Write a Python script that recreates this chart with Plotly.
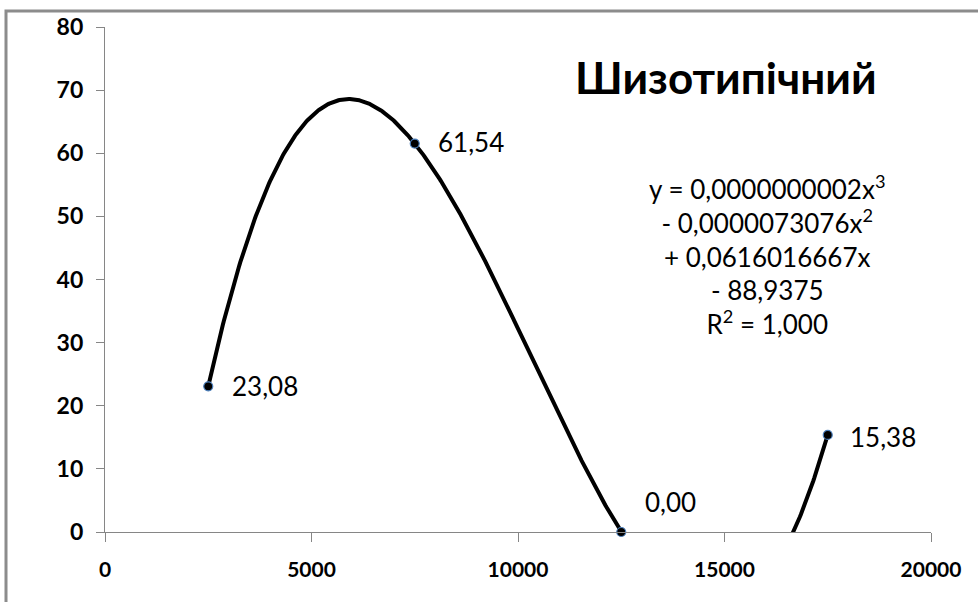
import numpy as np
import plotly.graph_objects as go

# Data
x_vals = [2500, 7500, 12500, 17500]
y_vals = [23.08, 61.54, 0.00, 15.38]
point_labels = ["23,08", "61,54", "0,00", "15,38"]
title_text = "Шизотипічний"
equation_lines = ["y = 0,0000000002x<sup>3</sup>", "- 0,0000073076x<sup>2</sup>",
                  "+ 0,0616016667x", "- 88,9375", "R<sup>2</sup> = 1,000"]
x_ticks = [0, 5000, 10000, 15000, 20000]
y_ticks = [0, 10, 20, 30, 40, 50, 60, 70, 80]

# Cubic trendline fitted to the data (as Excel's polynomial trendline)
coef = np.polyfit(x_vals, y_vals, 3)
xt = np.linspace(min(x_vals), max(x_vals), 600)
yt = np.polyval(coef, xt)

FONT = "Lato"
fig = go.Figure()
fig.add_trace(go.Scatter(x=xt, y=yt, mode="lines",
                         line=dict(color="black", width=4), hoverinfo="skip"))
fig.add_trace(go.Scatter(x=x_vals, y=y_vals, mode="markers",
                         marker=dict(color="black", size=9, line=dict(color="#4a7ebb", width=1.2)),
                         cliponaxis=False))

offsets = [(22, 0), (21, 2), (22, 30), (20, -2)]
for xv, yv, lab, (dx, dy) in zip(x_vals, y_vals, point_labels, offsets):
    fig.add_annotation(x=xv, y=yv, text=lab, showarrow=False, xanchor="left", yanchor="middle",
                       xshift=dx, yshift=dy, font=dict(family=FONT, size=26, color="black"))

fig.add_annotation(xref="paper", yref="paper", x=(726 - 105) / 826, y=(532 - 74) / 508,
                   text="<b>" + title_text + "</b>", showarrow=False, xanchor="center", yanchor="middle",
                   font=dict(family=FONT, size=44, color="black"))
fig.add_annotation(xref="paper", yref="paper", x=(767 - 105) / 826, y=(532 - 253) / 508,
                   text="<br>".join(equation_lines), showarrow=False, xanchor="center", yanchor="middle",
                   align="center", font=dict(family=FONT, size=26, color="black"))

# outer chart border (top and left visible)
fig.add_shape(type="rect", xref="paper", yref="paper",
              x0=(6 - 105) / 826, x1=1.2, y0=-0.3, y1=(532 - 8) / 508,
              line=dict(color="#8c8c8c", width=3), layer="below")

fig.update_xaxes(range=[0, 20000], tickvals=x_ticks, ticktext=[str(t) for t in x_ticks],
                 showgrid=False, zeroline=False, showline=True, linecolor="#868686", linewidth=1.3,
                 ticks="outside", ticklen=9, tickcolor="#868686", tickwidth=1.3,
                 ticklabelstandoff=10,
                 tickfont=dict(family=FONT, size=21, color="black", weight="bold"))
fig.update_yaxes(range=[0, 80], tickvals=y_ticks, showgrid=False, zeroline=False,
                 showline=True, linecolor="#868686", linewidth=1.3,
                 ticks="outside", ticklen=8, tickcolor="#868686", tickwidth=1.3,
                 ticklabelstandoff=8,
                 tickfont=dict(family=FONT, size=23, color="black", weight="bold"))

fig.update_layout(width=978, height=602, margin=dict(l=105, r=47, t=24, b=70),
                  plot_bgcolor="white", paper_bgcolor="white", showlegend=False)

fig.write_html("out.html")
